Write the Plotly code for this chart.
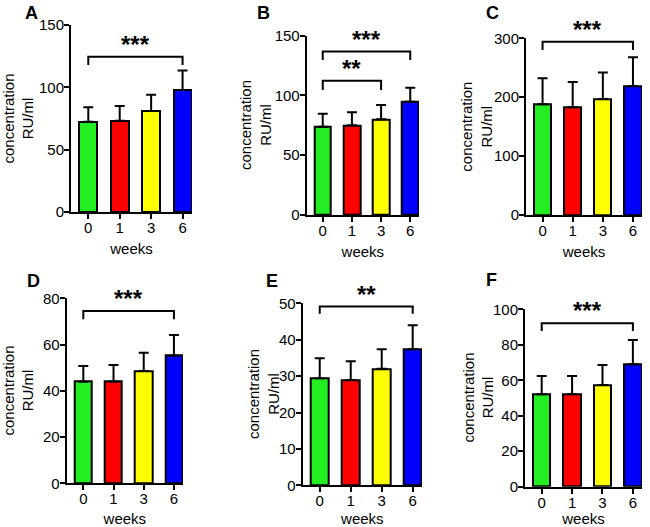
import plotly.graph_objects as go

weeks = ["0", "1", "3", "6"]
colors = ["#22EE22", "#FF0000", "#FFFF00", "#0000FF"]

panel_names = ["A", "B", "C", "D", "E", "F"]

mean_a = [72.4, 73.2, 81.0, 97.8]
sd_a = [11.6, 11.8, 13.0, 15.8]
mean_b = [73.9, 75.0, 80.0, 94.8]
sd_b = [10.9, 11.0, 12.0, 11.7]
mean_c = [188, 183, 197, 219]
sd_c = [44, 43, 45, 49]
mean_d = [43.9, 43.9, 48.6, 55.2]
sd_d = [6.8, 7.3, 7.9, 8.9]
mean_e = [29.4, 28.9, 32.0, 37.4]
sd_e = [5.5, 5.2, 5.4, 6.6]
mean_f = [52.1, 52.1, 57.3, 69.0]
sd_f = [10.3, 10.3, 11.3, 13.7]

y_max = [150, 150, 300, 80, 50, 100]
y_step = [50, 50, 100, 20, 10, 20]

# brackets: (from index, to index, top, foot, stars)
brackets = [
    [(0, 3, 124.5, 118, "***")],
    [(0, 3, 136.7, 129.7, "***"), (0, 2, 112.4, 104.6, "**")],
    [(0, 3, 294, 280, "***")],
    [(0, 3, 74.5, 70.9, "***")],
    [(0, 3, 49.1, 47.1, "**")],
    [(0, 3, 92.1, 87.8, "***")],
]

means = [mean_a, mean_b, mean_c, mean_d, mean_e, mean_f]
sds = [sd_a, sd_b, sd_c, sd_d, sd_e, sd_f]

# plot boxes in pixels (x0, x1, ytop, ybottom) on a 650x527 page
W, H = 650, 527
boxes = [
    (71, 192, 25, 212),
    (306.7, 419, 35.7, 215),
    (526, 642, 38.3, 215),
    (66.7, 183, 298.3, 483.3),
    (302.7, 422, 303.3, 485.3),
    (525, 642, 309.3, 486.7),
]
title_gap = [53, 51, 49, 48, 39, 47.5]
label_pos = [(31, 13), (263, 13), (492, 13), (33, 281), (272, 281), (491, 280)]

FONT = "Arial, Liberation Sans, sans-serif"

fig = go.Figure()
annotations = []

for i in range(6):
    n = "" if i == 0 else str(i + 1)
    xa, ya = "x" + n, "y" + n
    x0, x1, yt, yb = boxes[i]

    fig.add_trace(go.Bar(
        x=list(range(4)), y=means[i],
        marker=dict(color=colors, line=dict(color="black", width=2)),
        width=0.57,
        error_y=dict(type="data", symmetric=False, array=sds[i],
                     arrayminus=[0] * 4, color="black", thickness=2, width=5),
        xaxis=xa, yaxis=ya, showlegend=False,
    ))

    for (a, b, top, foot, stars) in brackets[i]:
        fig.add_trace(go.Scatter(
            x=[a, a, b, b], y=[foot, top, top, foot], mode="lines",
            line=dict(color="black", width=2),
            xaxis=xa, yaxis=ya, showlegend=False, hoverinfo="skip",
        ))
        annotations.append(dict(
            x=(a + b) / 2, y=top, xref=xa, yref=ya, text="<b>" + stars + "</b>",
            showarrow=False, yanchor="bottom", yshift=-3,
            font=dict(size=24, color="black", family=FONT),
        ))

    axis_common = dict(
        showline=True, linecolor="black", linewidth=2, ticks="outside",
        tickcolor="black", tickwidth=1.5, ticklen=5, showgrid=False,
        zeroline=False, automargin=False,
        tickfont=dict(size=15, color="black", family=FONT),
    )
    fig.layout["xaxis" + n] = dict(
        axis_common, domain=[x0 / W, x1 / W], anchor=ya,
        range=[-0.55, 3.3], tickvals=list(range(4)), ticktext=weeks,
        ticklabelstandoff=-4,
        title=dict(text="weeks", font=dict(size=15, color="black", family=FONT), standoff=8),
    )
    fig.layout["yaxis" + n] = dict(
        axis_common, domain=[1 - yb / H, 1 - yt / H], anchor=xa,
        range=[0, y_max[i]], dtick=y_step[i], ticklabelstandoff=-3,
    )

    annotations.append(dict(
        x=(x0 - title_gap[i]) / W, y=1 - (yt + yb) / 2 / H, xref="paper", yref="paper",
        text="concentration<br>RU/ml", textangle=-90, showarrow=False,
        xanchor="center", yanchor="middle",
        font=dict(size=15, color="black", family=FONT),
    ))
    lx, ly = label_pos[i]
    annotations.append(dict(
        x=lx / W, y=1 - ly / H, xref="paper", yref="paper",
        text="<b>" + panel_names[i] + "</b>", showarrow=False,
        xanchor="center", yanchor="middle",
        font=dict(size=18, color="black", family=FONT),
    ))

fig.update_layout(
    width=W, height=H,
    margin=dict(l=0, r=0, t=0, b=0),
    paper_bgcolor="white", plot_bgcolor="white",
    annotations=annotations,
    bargap=0,
)

fig.write_html("out.html", config={"displayModeBar": False},
               post_script="document.body.style.margin='0';")
